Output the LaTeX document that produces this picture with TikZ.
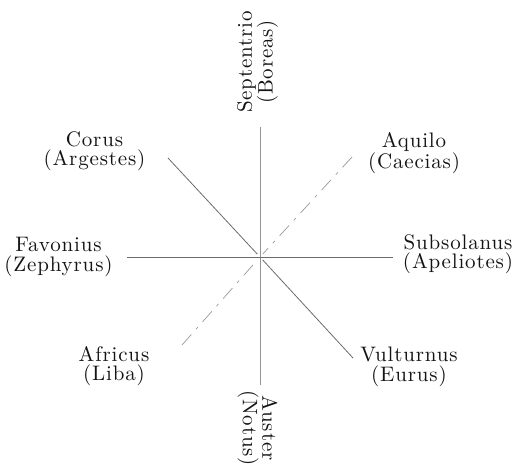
\documentclass[tikz,border=0pt]{standalone}
\usepackage{fontspec}
\setmainfont{lmroman10-regular.otf}[LetterSpace=4]
\begin{document}
\begin{tikzpicture}[x=1pt,y=-1pt,
  lbl/.style={align=center, font=\fontsize{21}{19.5}\selectfont, text=black!92, inner sep=0pt},
  ray/.style={draw=black!58, line width=0.8pt},
  faintray/.style={draw=black!40, line width=0.7pt, dash pattern=on 14pt off 7pt on 3pt off 7pt}]
\useasboundingbox (0,0) rectangle (518,467);
% centre and ray ends
\coordinate (c) at (260,257);
\coordinate (n) at (260,127);
\coordinate (s) at (260,385);
\coordinate (w) at (127,257);
\coordinate (e) at (393,257);
\coordinate (nw) at (168,158);
\coordinate (ne) at (352,157);
\coordinate (sw) at (182,345);
\coordinate (se) at (353,358);
% rays
\draw[ray, draw=black!42] (n) -- (c);
\draw[ray, draw=black!42] (c) -- (s);
\draw[ray] (w) -- (c);
\draw[ray] (c) -- (e);
\draw[ray, shorten >=4pt] (nw) -- (c);
\draw[faintray, shorten >=4pt] (ne) -- (c);
\draw[faintray, shorten >=4pt] (sw) -- (c);
\draw[ray, shorten >=4pt] (se) -- (c);
% labels
\node[lbl, rotate=90] (boreas) at (257.5,62) {Septentrio\\(Boreas)};
\node[lbl, rotate=-90] (notus) at (257.5,428) {Auster\\(Notus)};
\node[lbl] (corus) at (94.5,151) {Corus\\(Argestes)};
\node[lbl] (aquilo) at (414,153) {Aquilo\\(Caecias)};
\node[lbl] (favonius) at (58.5,257) {Favonius\\(Zephyrus)};
\node[lbl] (subsolanus) at (458,254) {Subsolanus\\(Apeliotes)};
\node[lbl] (africus) at (114,366) {Africus\\(Liba)};
\node[lbl] (vulturnus) at (409,367) {Vulturnus\\(Eurus)};
\end{tikzpicture}
\end{document}
